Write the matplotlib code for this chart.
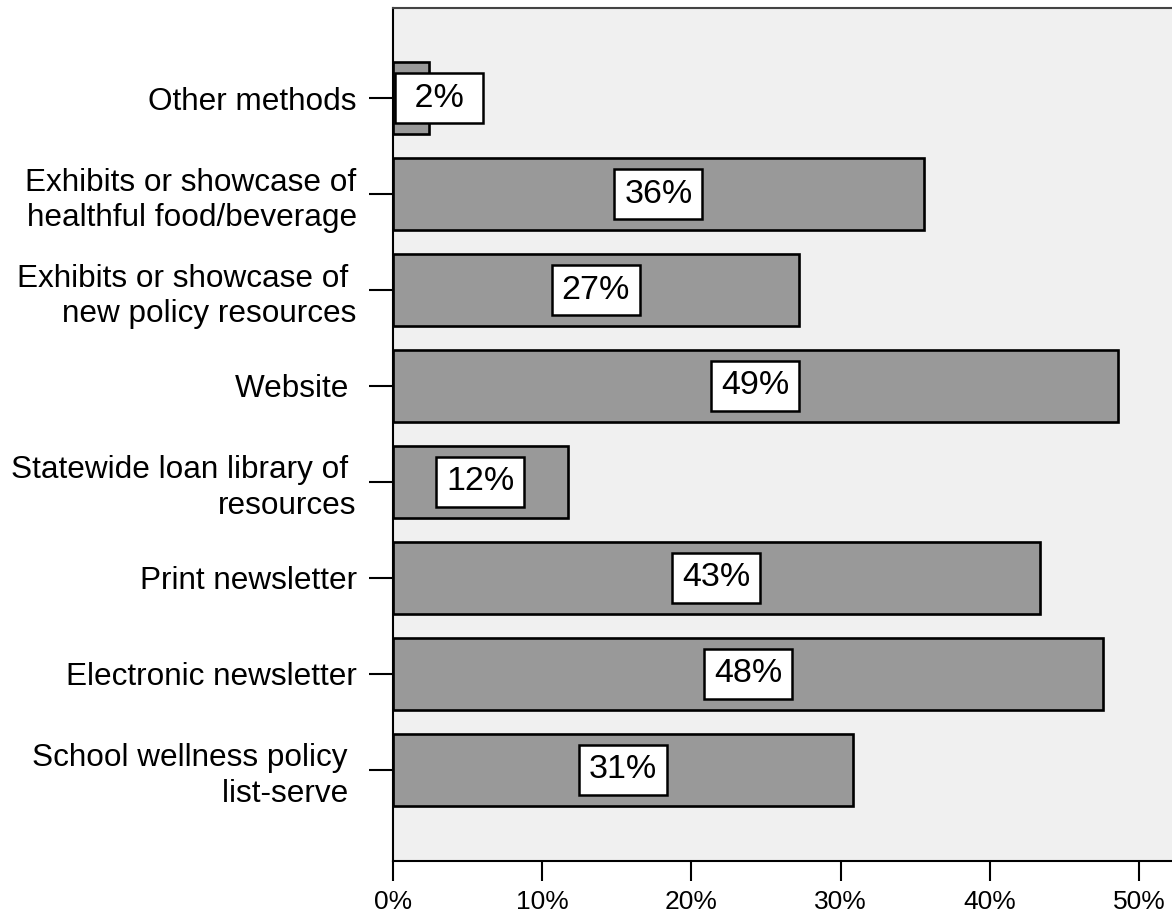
import matplotlib.pyplot as plt
from matplotlib.ticker import FuncFormatter

plt.rcParams["font.family"] = ["Liberation Sans", "DejaVu Sans"]

# Methods, listed bottom to top
metodos = [
    "School wellness policy \nlist-serve ",
    "Electronic newsletter",
    "Print newsletter",
    "Statewide loan library of \nresources",
    "Website ",
    "Exhibits or showcase of \nnew policy resources",
    "Exhibits or showcase of\nhealthful food/beverage",
    "Other methods",
]
percentuais = [30.85, 47.6, 43.35, 11.75, 48.55, 27.2, 35.6, 2.45]
ticks_x = [0, 10, 20, 30, 40, 50]

fig = plt.figure(figsize=(11.72, 9.13), dpi=100)
ax = fig.add_axes([0.3351, 0.0570, 0.6649, 0.9342])
ax.set_facecolor("#f0f0f0")

pos = list(range(len(metodos)))
ax.barh(pos, percentuais, height=0.75, color="#999999",
        edgecolor="black", linewidth=1.9, zorder=2)

# value labels in white boxes, centred on each bar
caixa = dict(boxstyle="square,pad=0.29", facecolor="white",
             edgecolor="black", linewidth=1.8)
for y, v in zip(pos, percentuais):
    txt = f"{round(v)}%"
    if len(txt) < 3:
        txt = f" {txt} "
    lx = max(v / 2, 3.1)
    ax.text(lx, y, txt, ha="center", va="center", fontsize=24.5,
            zorder=3, bbox=caixa)

ax.set_xlim(0, 52.2)
ax.set_ylim(-0.948, len(metodos) - 1 + 0.9375)

ax.set_xticks(ticks_x)
ax.xaxis.set_major_formatter(FuncFormatter(lambda x, _: f"{x:.0f}%"))
ax.set_yticks(pos)
ax.set_yticklabels(metodos)
for lbl in ax.get_yticklabels():
    lbl.set_linespacing(1.25)

ax.tick_params(axis="x", length=14.4, width=1.5, pad=6.5, labelsize=19,
               direction="out")
ax.tick_params(axis="y", length=17.3, width=1.5, pad=8.7, labelsize=22.7,
               direction="out")

for lado in ["left", "bottom", "top"]:
    ax.spines[lado].set_linewidth(1.5)
ax.spines["top"].set_color("#444444")
ax.spines["right"].set_visible(False)

plt.savefig("out.png", dpi=100)
plt.close()
